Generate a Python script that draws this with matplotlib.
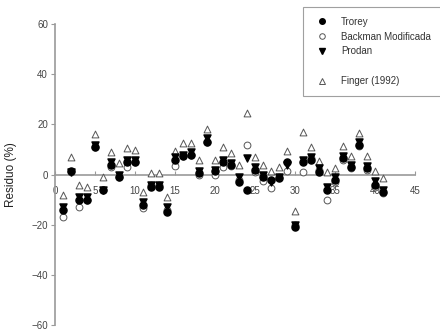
import matplotlib
matplotlib.use("Agg")
import matplotlib.pyplot as plt
from matplotlib.lines import Line2D

plt.rcParams["font.family"] = ["Liberation Sans", "DejaVu Sans"]

# residuals (%), one point per sample 1..41
muestra = list(range(1, 42))

trorey = [-14, 1.5, -10, -10, 11, -6, 4, -1, 5, 5,
          -12, -5, -5, -15, 6, 7.5, 8, 0.5, 13, 1.5,
          5, 4, -3, -6, 2, -1, -2, -1.5, 5, -21,
          5, 6, 1, -6, -2, 6.5, 3, 12, 2.5, -4, -7]

backman = [-17, 1, -13, -10, 11, -6, 3, -1, 3, 5,
           -13.5, -4, -4, -14, 3.5, 7.5, 8, 0, 13, 0,
           3, 3.5, -2, 12, 1, -2.5, -5.5, -1, 1.5, -20,
           1, 6.5, 2, -10, -3, 6, 2.5, 11.5, 2, -5, -7.5]

prodan = [-13, 1, -9, -9, 12, -6, 5, 0, 6, 6,
          -11, -4, -4, -13, 7, 8, 9, 1.5, 14.5, 2,
          6, 4.5, -1, 6.5, 3, 0, -3, -1, 4, -20,
          6, 7, 2.5, -5, -1, 7.5, 4, 13, 3.5, -2.5, -6]

finger = [-8, 7, -4, -5, 16, -1, 9, 4.5, 10.5, 10,
          -7, 0.5, 0.5, -9, 9.5, 12.5, 12.5, 6, 18, 6,
          11, 8.5, 4, 24.5, 7, 4, 1.3, 3, 9.5, -14.5,
          17, 11, 5.5, 1, 2.5, 11.5, 7.5, 16.5, 7.5, 1.5, -1.5]

xticks = [0, 5, 10, 15, 20, 25, 30, 35, 40, 45]
yticks = [-60, -40, -20, 0, 20, 40, 60]

axis_grey = "#9a9a9a"
text_grey = "#444444"

fig = plt.figure(figsize=(4.4, 3.31), dpi=100)
ax = fig.add_axes([0.125, 0.018, 0.818, 0.909])

ax.scatter(muestra, finger, s=24, marker="^", facecolors="white",
           edgecolors="#555555", linewidths=0.7, zorder=3)
ax.scatter(muestra, backman, s=24, marker="o", facecolors="white",
           edgecolors="#555555", linewidths=0.7, zorder=3)
ax.scatter(muestra, prodan, s=26, marker="v", color="black", zorder=4)
ax.scatter(muestra, trorey, s=26, marker="o", color="black", zorder=5)

ax.set_xlim(0, 45)
ax.set_ylim(-60, 60)
ax.set_xticks(xticks)
ax.set_yticks(yticks)

ax.spines["top"].set_visible(False)
ax.spines["right"].set_visible(False)
ax.spines["bottom"].set_position(("data", 0))
ax.spines["left"].set_color(axis_grey)
ax.spines["bottom"].set_color(axis_grey)
ax.spines["left"].set_linewidth(1.2)
ax.spines["bottom"].set_linewidth(1.2)

ax.tick_params(axis="y", direction="out", length=3, color=axis_grey,
               labelsize=7, labelcolor=text_grey, pad=2)
ax.tick_params(axis="x", direction="in", length=3, color=axis_grey,
               labelsize=7, labelcolor=text_grey, pad=8)

ax.set_ylabel("Residuo (%)", fontsize=8.5, color="#222222")
ax.yaxis.set_label_coords(-0.105, 0.5)

handles = [
    Line2D([], [], ls="", marker="o", color="black", ms=4),
    Line2D([], [], ls="", marker="o", mfc="white", mec="#555555", ms=4, mew=0.7),
    Line2D([], [], ls="", marker="v", color="black", ms=4),
    Line2D([], [], ls="", marker=None),
    Line2D([], [], ls="", marker="^", mfc="white", mec="#555555", ms=4, mew=0.7),
]
labels = ["Trorey", "Backman Modificada", "Prodan", "", "Finger (1992)"]
leg = fig.legend(handles, labels, loc="upper left",
                 bbox_to_anchor=(303 / 440, 1 - 7 / 331),
                 fontsize=7, frameon=True, fancybox=False,
                 edgecolor="#888888", handlelength=2.0, handletextpad=0.9,
                 borderpad=1.0, labelspacing=0.5, borderaxespad=0)
leg.get_frame().set_linewidth(0.8)
for t in leg.get_texts():
    t.set_color("#333333")

fig.savefig("out.png", dpi=100)
